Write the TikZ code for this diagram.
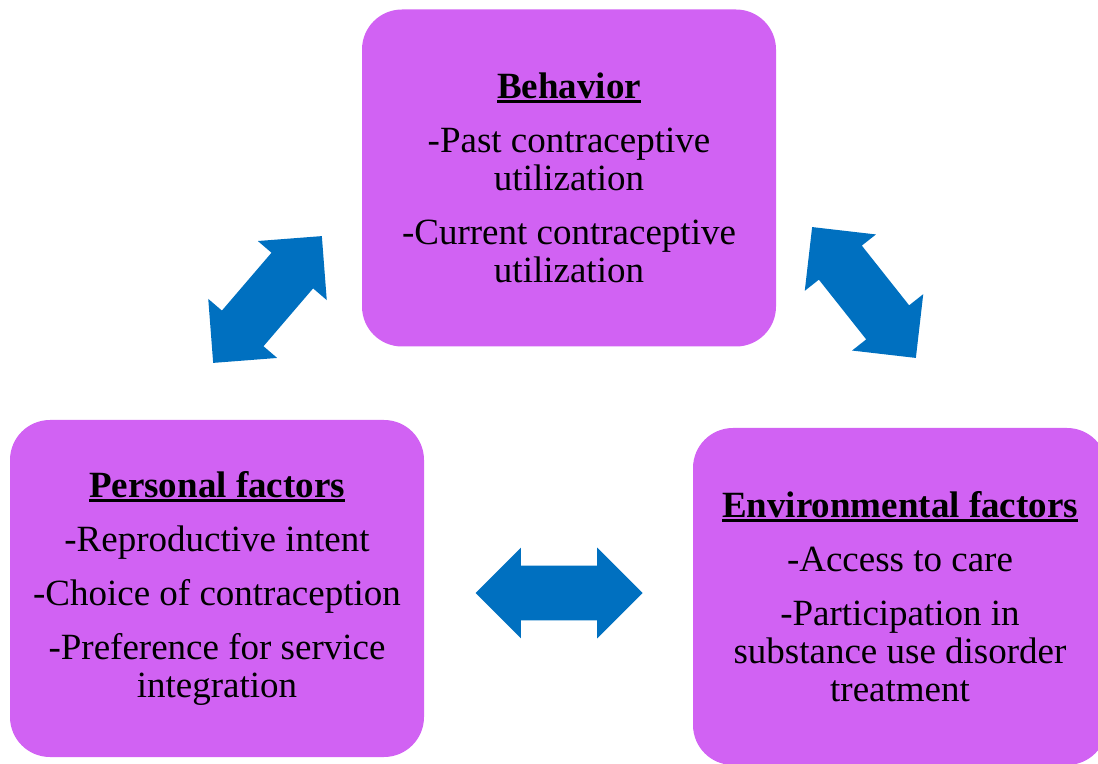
\documentclass[tikz,border=0pt]{standalone}
\usepackage{fontspec}
\setmainfont{Liberation Serif}
\usetikzlibrary{shapes.arrows}

\definecolor{boxpurple}{RGB}{209,98,243}
\definecolor{arrowblue}{RGB}{0,112,192}

\newcommand{\boxtitle}[1]{\setbox0\hbox{\bfseries #1}\rlap{\rule[-2.2pt]{\wd0}{1.3pt}}\box0}

\tikzset{
  factorbox/.style={rectangle, rounded corners=20pt, fill=boxpurple, minimum width=207pt,
    minimum height=168.5pt, align=center, inner sep=0pt,
    font=\fontsize{18.5}{19}\selectfont},
  twoway/.style={double arrow, fill=arrowblue, inner xsep=0pt, inner ysep=13.5pt,
    double arrow tip angle=90, double arrow head extend=9pt, minimum height=83.5pt}
}

\begin{document}
\begin{tikzpicture}[x=0.5pt, y=-0.5pt]
  \useasboundingbox (0,0) rectangle (1098,764);

  \node[factorbox] (behavior) at (569,178) {\boxtitle{Behavior}\\[8pt]
    -Past contraceptive\\ utilization\\[8pt]
    -Current contraceptive\\ utilization};

  \node[factorbox] (personal) at (217,588.5) {\boxtitle{Personal factors}\\[8pt]
    -Reproductive intent\\[8pt]
    -Choice of contraception\\[8pt]
    -Preference for service\\ integration};

  \node[factorbox] (environ) at (900,596.5) {\boxtitle{Environmental factors}\\[8pt]
    -Access to care\\[8pt]
    -Participation in\\ substance use disorder\\ treatment};

  \node[twoway, rotate=49.4] (persbeh) at (267.5,299.5) {};
  \node[twoway, rotate=-51.6] (behenv) at (864,292.5) {};
  \node[twoway] (persenv) at (559,593) {};
\end{tikzpicture}
\end{document}
